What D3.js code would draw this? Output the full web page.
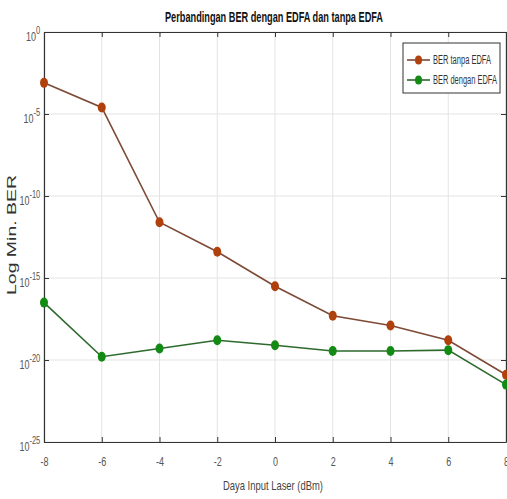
<!DOCTYPE html>
<html>
<head>
<meta charset="utf-8">
<script src="https://cdn.jsdelivr.net/npm/d3@7"></script>
<style>
  body { margin: 0; background: #fff; }
  text { font-family: "Liberation Sans", Arial, sans-serif; }
</style>
</head>
<body>
<svg id="chart" width="507" height="499"></svg>
<script>
// data (log10 of BER)
const dayaInput = [-8, -6, -4, -2, 0, 2, 4, 6, 8];
const tanpaEDFA = [-3.1, -4.6, -11.6, -13.4, -15.5, -17.3, -17.9, -18.8, -20.9];
const denganEDFA = [-16.5, -19.8, -19.3, -18.8, -19.1, -19.45, -19.45, -19.4, -21.5];
const xTicks = [-8, -6, -4, -2, 0, 2, 4, 6, 8];
const yTicks = [0, -5, -10, -15, -20, -25];

const margin = { left: 44, top: 32, right: 506, bottom: 442 };
const svg = d3.select('#chart');

const x = d3.scaleLinear().domain([-8, 8]).range([margin.left, margin.right]);
const y = d3.scaleLinear().domain([0, -25]).range([margin.top, margin.bottom]);

// grid
svg.append('g').selectAll('line').data(xTicks).enter().append('line')
  .attr('x1', d => x(d)).attr('x2', d => x(d))
  .attr('y1', margin.top).attr('y2', margin.bottom)
  .attr('stroke', '#e3e3e3').attr('stroke-width', 1);
svg.append('g').selectAll('line').data(yTicks).enter().append('line')
  .attr('y1', d => y(d)).attr('y2', d => y(d))
  .attr('x1', margin.left).attr('x2', margin.right)
  .attr('stroke', '#e3e3e3').attr('stroke-width', 1);

// axes (ticks inside, box on all sides)
function styleAxis(g) {
  g.select('.domain').attr('stroke', '#333').attr('stroke-width', 1.2);
  g.selectAll('.tick line').attr('stroke', '#333');
  g.selectAll('.tick text').attr('fill', '#555').style('font-size', '12px')
    .style('font-family', '"Liberation Sans", Arial, sans-serif');
}

svg.append('g')
  .attr('transform', 'translate(0,' + margin.bottom + ')')
  .call(d3.axisBottom(x).tickValues(xTicks).tickSizeInner(-5).tickSizeOuter(0).tickPadding(15)
    .tickFormat(d => String(d)))
  .call(styleAxis)
  .selectAll('.tick text').attr('transform', 'scale(0.75,1)');

svg.append('g')
  .attr('transform', 'translate(0,' + margin.top + ')')
  .call(d3.axisTop(x).tickValues(xTicks).tickSizeInner(-5).tickSizeOuter(0).tickFormat(''))
  .call(styleAxis);

const yAxisG = svg.append('g')
  .attr('transform', 'translate(' + margin.left + ',0)')
  .call(d3.axisLeft(y).tickValues(yTicks).tickSizeInner(-5).tickSizeOuter(0).tickFormat(''))
  .call(styleAxis);

svg.append('g')
  .attr('transform', 'translate(' + margin.right + ',0)')
  .call(d3.axisRight(y).tickValues(yTicks).tickSizeInner(-5).tickSizeOuter(0).tickFormat(''))
  .call(styleAxis);

// y tick labels as 10^n
yAxisG.selectAll('.tick').each(function (d) {
  const t = d3.select(this).append('text')
    .attr('x', -5).attr('y', 8)
    .attr('transform', 'scale(0.75,1)')
    .attr('text-anchor', 'end')
    .attr('fill', '#555')
    .style('font-size', '12px');
  t.append('tspan').text('10');
  t.append('tspan').attr('dy', -7).style('font-size', '10px').text(String(d));
});

// lines and markers
const series = [
  { name: 'BER tanpa EDFA', values: tanpaEDFA, line: '#7d4a35', mark: '#b0400c', len: 58 },
  { name: 'BER dengan EDFA', values: denganEDFA, line: '#2e6a2e', mark: '#138a13', len: 64 }
];

const line = d3.line().x((d, i) => x(dayaInput[i])).y(d => y(d));

series.forEach(s => {
  svg.append('path')
    .datum(s.values)
    .attr('d', line)
    .attr('fill', 'none')
    .attr('stroke', s.line)
    .attr('stroke-width', 1.6);
  svg.append('g').selectAll('ellipse').data(s.values).enter().append('ellipse')
    .attr('cx', (d, i) => x(dayaInput[i]))
    .attr('cy', d => y(d))
    .attr('rx', 4).attr('ry', 5)
    .attr('fill', s.mark);
});

// legend
const legend = svg.append('g').attr('transform', 'translate(403,43)');
legend.append('rect').attr('width', 97).attr('height', 50)
  .attr('fill', '#fff').attr('stroke', '#333').attr('stroke-width', 1);
series.forEach((s, i) => {
  const ly = 17 + i * 20;
  legend.append('line').attr('x1', 4).attr('x2', 27).attr('y1', ly).attr('y2', ly)
    .attr('stroke', s.line).attr('stroke-width', 1.6);
  legend.append('ellipse').attr('cx', 15.5).attr('cy', ly).attr('rx', 3.5).attr('ry', 4.5)
    .attr('fill', s.mark);
  legend.append('text').attr('x', 30).attr('y', ly + 4)
    .attr('textLength', s.len).attr('lengthAdjust', 'spacingAndGlyphs')
    .attr('fill', '#333').style('font-size', '12px').text(s.name);
});

// title and axis labels
svg.append('text')
  .attr('x', 165).attr('y', 22)
  .attr('textLength', 218).attr('lengthAdjust', 'spacingAndGlyphs')
  .style('font-size', '14px').style('font-weight', 'bold')
  .attr('fill', '#111')
  .text('Perbandingan BER dengan EDFA dan tanpa EDFA');

svg.append('text')
  .attr('x', 223).attr('y', 490)
  .attr('textLength', 100).attr('lengthAdjust', 'spacingAndGlyphs')
  .style('font-size', '13px')
  .attr('fill', '#444')
  .text('Daya Input Laser (dBm)');

svg.append('text')
  .attr('transform', 'translate(16,295) rotate(-90)')
  .attr('textLength', 120).attr('lengthAdjust', 'spacingAndGlyphs')
  .style('font-size', '13px')
  .attr('fill', '#333')
  .text('Log Min. BER');
</script>
</body>
</html>
